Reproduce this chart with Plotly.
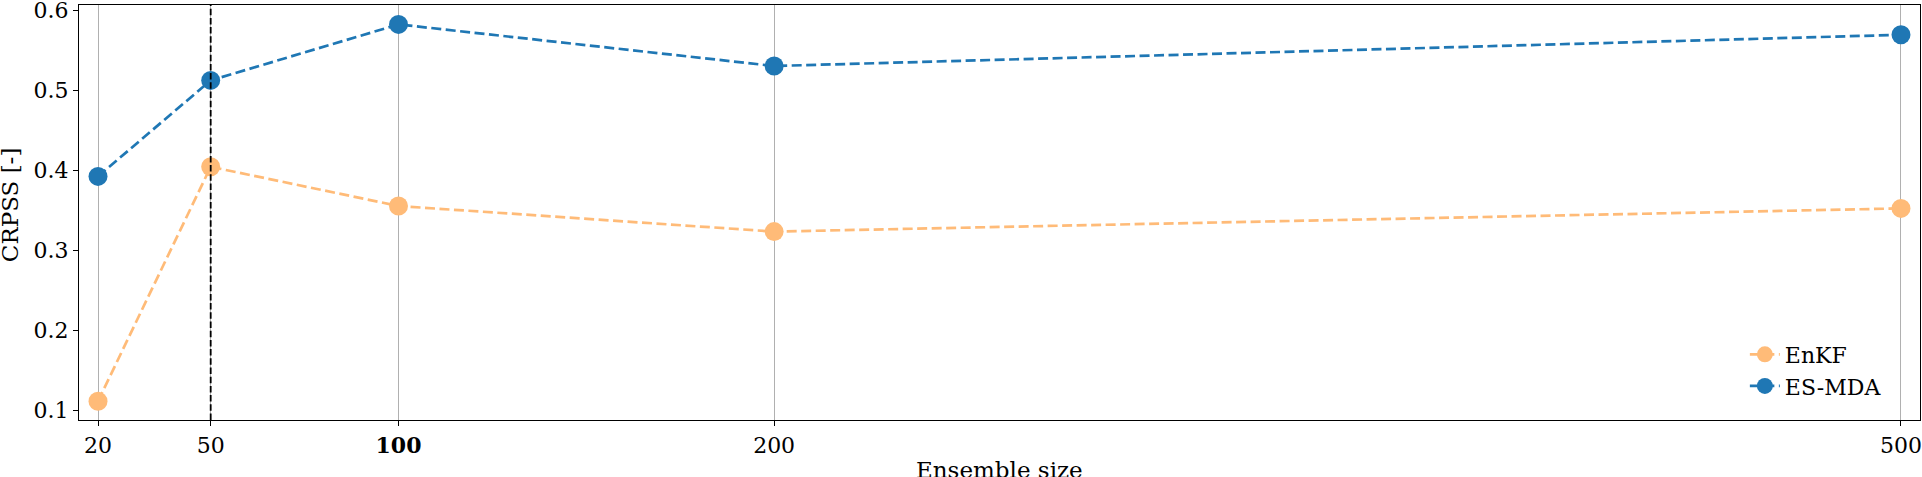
import plotly.graph_objects as go

ensemble_sizes = [20, 50, 100, 200, 500]
tick_labels = ["20", "50", "<b>100</b>", "200", "500"]
enkf = [0.111, 0.404, 0.355, 0.323, 0.352]
esmda = [0.392, 0.512, 0.582, 0.530, 0.569]
chosen_size = 50

font = dict(family="DejaVu Serif", size=22, color="black")
title_font = dict(family="DejaVu Serif", size=23, color="black")

fig = go.Figure()
fig.add_trace(go.Scatter(x=ensemble_sizes, y=enkf, name="EnKF", mode="lines+markers",
                         line=dict(color="#ffbb78", width=2.7, dash="10px,4.5px"),
                         marker=dict(size=19, color="#ffbb78")))
fig.add_trace(go.Scatter(x=ensemble_sizes, y=esmda, name="ES-MDA", mode="lines+markers",
                         line=dict(color="#1f77b4", width=2.7, dash="10px,4.5px"),
                         marker=dict(size=19, color="#1f77b4")))

# vertical marker for the selected ensemble size
fig.add_vline(x=chosen_size, line=dict(color="black", width=1.8, dash="6.5px,2.7px"))

fig.update_layout(
    width=1922, height=477,
    margin=dict(l=79, r=2, t=5, b=57),
    plot_bgcolor="white", paper_bgcolor="white",
    font=font,
    showlegend=True,
    legend=dict(x=0.982, y=0.03, xanchor="right", yanchor="bottom",
                bgcolor="rgba(0,0,0,0)", font=dict(family="DejaVu Serif", size=22)),
)
fig.update_xaxes(
    range=[14.94, 505.06], tickmode="array", tickvals=ensemble_sizes, ticktext=tick_labels,
    showgrid=True, gridcolor="#b0b0b0", gridwidth=1, zeroline=False,
    showline=True, linecolor="black", linewidth=1.2, mirror=True,
    ticks="outside", ticklen=5, tickcolor="black", ticklabeloverflow="allow",
    tickfont=dict(size=22), automargin=False,
)
fig.update_yaxes(
    range=[0.0875, 0.60625], tickmode="array", tickvals=[0.1, 0.2, 0.3, 0.4, 0.5, 0.6],
    ticktext=["0.1", "0.2", "0.3", "0.4", "0.5", "0.6"],
    showgrid=False, zeroline=False,
    showline=True, linecolor="black", linewidth=1.2, mirror=True,
    ticks="outside", ticklen=5, tickcolor="black", ticklabeloverflow="allow",
    tickfont=dict(size=22), automargin=False,
)

# axis titles as annotations so they can sit where the original has them
fig.add_annotation(text="Ensemble size", xref="paper", yref="paper", x=0.5, y=-0.121,
                   xanchor="center", yanchor="middle", showarrow=False, font=title_font)
fig.add_annotation(text="CRPSS [-]", xref="paper", yref="paper", x=-0.0375, y=0.52,
                   xanchor="center", yanchor="middle", textangle=-90, showarrow=False,
                   font=title_font)

# drop the browser's default body margin so the figure sits at the page corner
fig.write_html("out.html", config={"displayModeBar": False},
               post_script="document.body.style.margin = '0';")
